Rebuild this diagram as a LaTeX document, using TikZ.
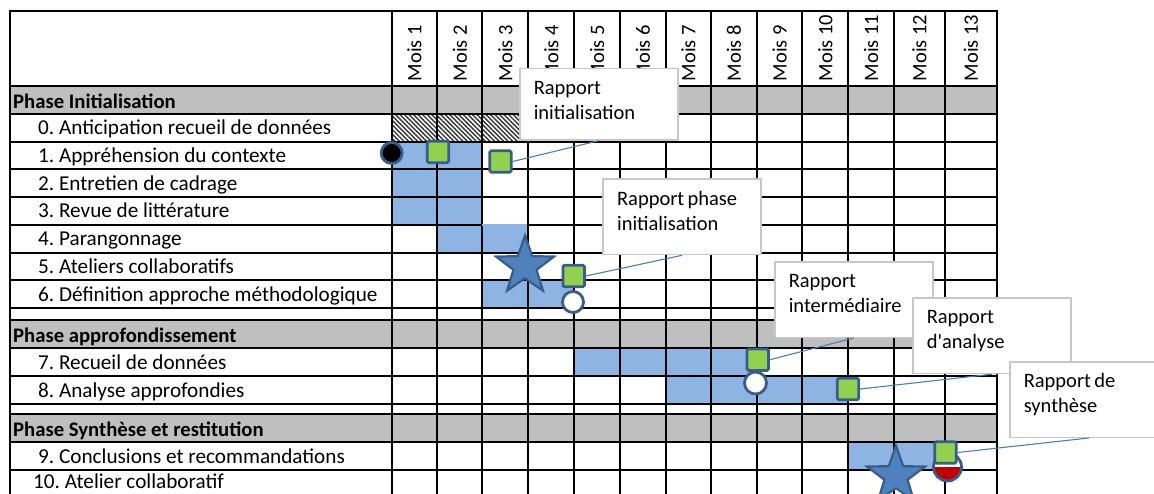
\documentclass[tikz,border=0pt]{standalone}
\usepackage{fontspec}
\setmainfont{Carlito}
\frenchspacing
\usetikzlibrary{shapes.geometric,patterns.meta}
\definecolor{barblue}{HTML}{8EB4E3}
\definecolor{phasegray}{HTML}{BFBFBF}
\definecolor{mkgreen}{HTML}{92D050}
\definecolor{mkborder}{HTML}{385D8A}
\definecolor{starblue}{HTML}{4F81BD}
\definecolor{linkblue}{HTML}{4A7EBB}
\definecolor{callgray}{HTML}{C8C8C8}
\definecolor{mkred}{HTML}{C00000}
\tikzset{
  gridline/.style={line width=2pt, black, line cap=rect},
  bar/.style={fill=barblue},
  phaserow/.style={fill=phasegray},
  basefont/.style={font=\fontsize{20.5}{25}\selectfont},
  tasklabel/.style={font=\fontsize{21.2}{25}\selectfont, anchor=base west, inner sep=0pt},
  phaselabel/.style={anchor=base west, inner sep=0pt, font=\fontsize{20.7}{25}\selectfont\bfseries},
  monthlabel/.style={basefont, rotate=90, anchor=west, inner sep=0pt},
  greensq/.style={rectangle, rounded corners=1.5pt, minimum size=21.5pt, inner sep=0pt, fill=mkgreen, draw=mkborder, line width=2.8pt},
  mkcircle/.style={circle, minimum size=21pt, inner sep=0pt, draw=mkborder, line width=2.8pt},
  mkstar/.style={star, star points=5, star point ratio=2.5, minimum size=61pt, inner sep=0pt, fill=starblue, draw=mkborder, line width=2.2pt},
  callout/.style={basefont, execute at begin node={\spaceskip=3.3pt\relax}, rectangle, draw=callgray, line width=1.5pt, fill=white, anchor=north west, text width=130pt, align=left, inner xsep=14pt, inner ysep=0pt, text height=26pt},
  link/.style={draw=linkblue, line width=1.1pt},
}
\begin{document}
\begin{tikzpicture}[x=1pt,y=-1pt]
\clip (0,0) rectangle (1154,493);
\fill[white] (0,0) rectangle (1154,493);
% phase rows
\fill[phaserow] (10,86) rectangle (996.7,114);
\fill[phaserow] (10,319.5) rectangle (996.7,348);
\fill[phaserow] (10,414) rectangle (996.7,442);
% hatched cells
\fill[white] (391.7,114) rectangle (528.3,141.5);
\fill[pattern={Lines[angle=-45,distance=3.2pt,line width=1.4pt]}, pattern color=black!80] (391.7,114) rectangle (528.3,141.5);
% bars
\fill[bar] (391.7,141.5) rectangle (482.3,224.5);
\fill[bar] (437.3,224.5) rectangle (528.3,252.5);
\fill[bar] (482.3,280) rectangle (574.3,308);
\fill[bar] (574.3,348) rectangle (757,376);
\fill[bar] (665.7,376) rectangle (848.3,404);
\fill[bar] (848.3,442) rectangle (945,470);
% grid
\foreach \y in {11,86,114,141.5,169,197,224.5,252.5,280,308,319.5,348,376,404,414,442,470}
  \draw[gridline] (10,\y) -- (996.7,\y);
\foreach \x in {10,391.7,437.3,482.3,528.3,574.3,620,665.7,711,757,802.3,848.3,894,945,996.7}
  \draw[gridline] (\x,11) -- (\x,505);
% bar top covering grid where the row above is not blue
\fill[bar] (482.3,223.5) rectangle (527.3,225.5);
% month headers
\foreach \x/\m in {414.5/1,459.8/2,505.3/3,551.3/4,597.2/5,642.9/6,688.4/7,734/8,779.7/9,825.3/10,871.2/11,919.5/12,970.9/13}
  \node[monthlabel] (mois\m) at (\x,81.5) {Mois \m};
% phase labels
\node[phaselabel] (ph1) at (13,108) {Phase Initialisation};
\node[phaselabel] (ph2) at (13,342) {Phase approfondissement};
\node[phaselabel] (ph3) at (13,436) {Phase Synthèse et restitution};
% task labels
\node[tasklabel] (t0) at (38,134.5) {0. Anticipation recueil de données};
\node[tasklabel] (t1) at (38,162) {1. Appréhension du contexte};
\node[tasklabel] (t2) at (38,190) {2. Entretien de cadrage};
\node[tasklabel] (t3) at (38,217.5) {3. Revue de littérature};
\node[tasklabel] (t4) at (38,245.5) {4. Parangonnage};
\node[tasklabel] (t5) at (38,273) {5. Ateliers collaboratifs};
\node[tasklabel] (t6) at (38,301) {6. Définition approche méthodologique};
\node[tasklabel] (t7) at (38,369) {7. Recueil de données};
\node[tasklabel] (t8) at (38,397) {8. Analyse approfondies};
\node[tasklabel] (t9) at (38,463) {9. Conclusions et recommandations};
\node[tasklabel] (t10) at (33,488.5) {10. Atelier collaboratif};
% markers
\node[mkcircle, fill=black] (c1) at (391.7,153) {};
\node[greensq] (s1) at (438,152) {};
\node[greensq] (s2) at (500.5,161.5) {};
\node[mkstar] (st1) at (525,266) {};
\node[greensq] (s3) at (573.7,276) {};
\node[mkcircle, fill=white] (c2) at (573,302) {};
\node[mkcircle, fill=white, minimum size=22pt] (c3) at (755.5,383) {};
\node[greensq] (s4) at (757.8,359.7) {};
\node[greensq] (s5) at (848,389) {};
\node[mkstar] (st2) at (896,476) {};
\node[circle, minimum size=28pt, inner sep=0pt, fill=white] (hc) at (947.5,467) {};
\fill[mkred] ([xshift=-14pt]hc.center) arc[start angle=180, end angle=360, radius=14pt] -- cycle;
\draw[mkborder, line width=2.8pt] (hc.center) circle[radius=14pt];
\node[greensq] (s6) at (945.5,452.5) {};
% callouts
\node[callout, text depth=45.5pt] (r1) at (519,67.7) {Rapport\\initialisation};
\node[callout, text depth=49.5pt] (r2) at (602.3,178.3) {Rapport phase\\initialisation};
\node[callout, text depth=49.5pt] (r3) at (774,261) {Rapport\\intermédiaire};
\node[callout, text depth=49.5pt] (r4) at (912,297.2) {Rapport\\d\textquotesingle analyse};
\node[callout, text depth=49.5pt] (r5) at (1009,361) {Rapport de\\synthèse};
% connectors
\draw[link] (s2.east) -- (r1.south);
\draw[link] (s3.east) -- (r2.south);
\draw[link] (s4.east) -- (r3.south);
\draw[link] (s5.east) -- (r4.south);
\draw[link] (s6.east) -- (r5.south);
\end{tikzpicture}
\end{document}
